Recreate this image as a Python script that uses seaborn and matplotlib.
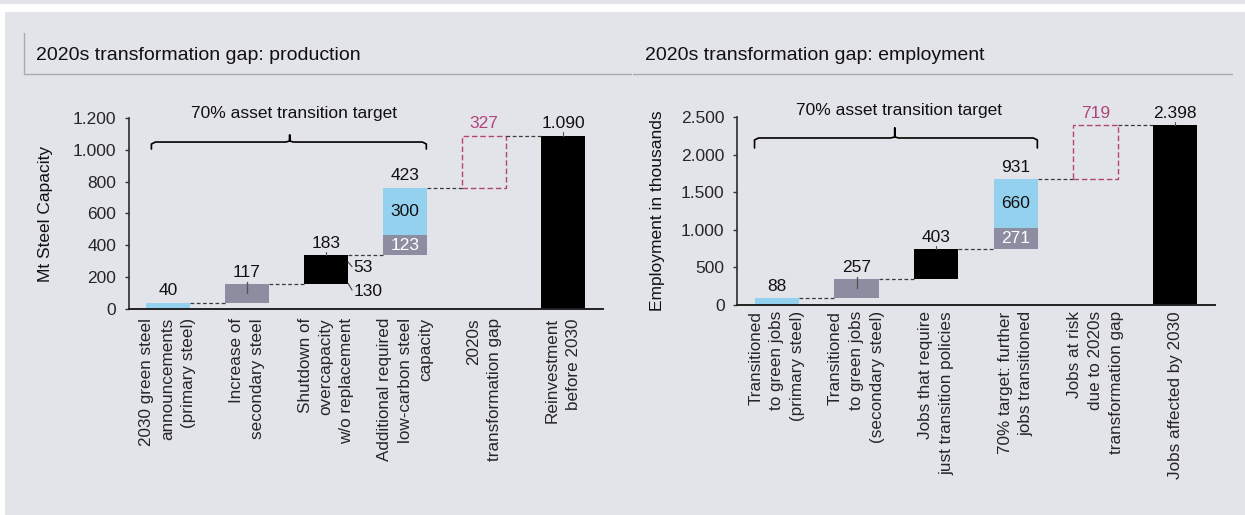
import numpy as np
import pandas as pd
import matplotlib
matplotlib.use("Agg")
import matplotlib.pyplot as plt
import seaborn as sns
from matplotlib.lines import Line2D
from matplotlib.patches import Rectangle
from matplotlib.ticker import FuncFormatter

# ---- data ----
prod_cats = ["2030 green steel\nannouncements\n(primary steel)",
             "Increase of\nsecondary steel",
             "Shutdown of\novercapacity\nw/o replacement",
             "Additional required\nlow-carbon steel\ncapacity",
             "2020s\ntransformation gap",
             "Reinvestment\nbefore 2030"]
prod_steps = [40, 117, 183, 423, 327]
prod_total = 1090
prod_split = [123, 300]          # grey / blue part of the 4th step
prod_shutdown_parts = [53, 130]

emp_cats = ["Transitioned\nto green jobs\n(primary steel)",
            "Transitioned\nto green jobs\n(secondary steel)",
            "Jobs that require\njust transition policies",
            "70% target: further\njobs transitioned",
            "Jobs at risk\ndue to 2020s\ntransformation gap",
            "Jobs affected by 2030"]
emp_steps = [88, 257, 403, 931, 719]
emp_total = 2398
emp_split = [271, 660]

BG = "#e3e4e9"
BLUE = "#94d1ef"
GREY = "#8d8da2"
MAGENTA = "#b0457a"
DASH = "#3a3a3a"

sns.set_theme(style="white", rc={"axes.facecolor": BG, "figure.facecolor": BG})
plt.rcParams["font.family"] = ["Liberation Sans", "DejaVu Sans"]


def fmt(v):
    return f"{v:,.0f}".replace(",", ".")


def waterfall(ax, cats, steps, total, split, ylim, ystep, brace, xpad):
    w = 0.56
    n = len(cats)
    tops = np.cumsum(steps)
    starts = tops - np.array(steps)
    bottoms = list(starts) + [0]
    heights = list(steps[:3]) + [split[0], steps[4], total]
    colors = [BLUE, GREY, "black", GREY, "none", "black"]

    df = pd.DataFrame({"cat": cats, "h": heights})
    sns.barplot(data=df, x="cat", y="h", order=cats, width=w, color=BLUE,
                saturation=1, errorbar=None, linewidth=0, ax=ax)
    for p, b, c in zip(ax.patches, bottoms, colors):
        p.set_y(b)
        p.set_facecolor(c)
    gap_bar = ax.patches[4]
    gap_bar.set_edgecolor(MAGENTA)
    gap_bar.set_linewidth(1)
    gap_bar.set_linestyle((0, (4, 2)))

    # blue upper part of the stacked step
    before = len(ax.patches)
    df2 = pd.DataFrame({"cat": [cats[3]], "h": [split[1]]})
    sns.barplot(data=df2, x="cat", y="h", order=cats, width=w, color=BLUE,
                saturation=1, errorbar=None, linewidth=0, ax=ax)
    for p in ax.patches[before:]:
        p.set_y(starts[3] + split[0])

    # connectors
    levels = list(tops)
    for i in range(n - 1):
        ax.plot([i + w / 2, i + 1 - w / 2], [levels[i], levels[i]],
                color=DASH, lw=0.9, ls=(0, (3, 2)), zorder=1)

    # value labels
    lab_y = list(tops[:5]) + [total]
    lab_v = list(steps) + [total]
    for i in range(n):
        ax.annotate(fmt(lab_v[i]), (i, lab_y[i]), xytext=(0, 3),
                    textcoords="offset points", ha="center", va="bottom",
                    fontsize=12.5, color=MAGENTA if i == 4 else "#111111")
    ax.text(3, starts[3] + split[0] / 2, fmt(split[0]), ha="center",
            va="center", fontsize=12.5, color="white")
    ax.text(3, starts[3] + split[0] + split[1] / 2, fmt(split[1]),
            ha="center", va="center", fontsize=12.5, color="#111111")

    # small leader ticks
    u = ylim / 190.0
    ax.plot([1, 1], [tops[1] + 2 * u, tops[1] - 9 * u], color="#555555", lw=1)
    for i, t in [(2, tops[2]), (5, total)]:
        ax.plot([i, i], [t, t + 3 * u], color="#555555", lw=0.8)

    # brace
    x0, x1, xc, yb, ye, yt, ty = brace
    d = 0.05
    ax.plot([x0, x0, x0 + d, xc - d, xc, xc, xc, xc + d, x1 - d, x1, x1],
            [ye, yb - 2 * u, yb, yb, yb + 1 * u, yt, yb + 1 * u, yb, yb, yb - 2 * u, ye],
            color="black", lw=1.2, clip_on=False)
    ax.text(xc + 0.05, ty, "70% asset transition target", ha="center",
            va="center", fontsize=12.5, color="#111111", clip_on=False)

    ax.set_xlim(-0.5, n - 0.5)
    ax.set_ylim(0, ylim)
    ax.set_yticks(np.arange(0, ylim + 1, ystep))
    ax.yaxis.set_major_formatter(FuncFormatter(lambda v, _: fmt(v)))
    ax.set_xticks(range(n))
    ax.set_xticklabels(cats, rotation=90, ha="center", va="top",
                       multialignment="right", fontsize=12.3, linespacing=1.5)
    ax.set_xlabel("")
    ax.tick_params(axis="x", length=0, pad=xpad)
    ax.tick_params(axis="y", length=3, width=1, direction="out", labelsize=12.5,
                   pad=6, color="#333333", left=True)
    for s in ["top", "right"]:
        ax.spines[s].set_visible(False)
    ax.spines["left"].set_color("#333333")
    ax.spines["bottom"].set_color("#222222")
    ax.spines["bottom"].set_linewidth(1.4)
    ax.set_facecolor("none")
    return starts


fig = plt.figure(figsize=(12.45, 5.15), dpi=100)
fig.patches.append(Rectangle((0, 1 - 12 / 515), 1, 8 / 515, transform=fig.transFigure,
                             facecolor="white", edgecolor="none", zorder=-1))
fig.patches.append(Rectangle((0, 0), 5 / 1245, 1 - 12 / 515, transform=fig.transFigure,
                             facecolor="white", edgecolor="none", zorder=-1))

ax1 = fig.add_axes([128.5 / 1245, 1 - 309 / 515, 474 / 1245, 191 / 515])
ax2 = fig.add_axes([737 / 1245, 1 - 305 / 515, 478 / 1245, 188 / 515])

starts1 = waterfall(ax1, prod_cats, prod_steps, prod_total, prod_split, 1200, 200,
                    (-0.21, 3.27, 1.54, 1049, 1005, 1093, 1231), 6.5)
waterfall(ax2, emp_cats, emp_steps, emp_total, emp_split, 2500, 500,
          (-0.28, 3.27, 1.48, 2221, 2088, 2354, 2580), 4.5)

# shutdown split labels
edge = 2 + 0.28
top_sd = starts1[2] + prod_steps[2]
ax1.plot([edge, edge + 0.05], [top_sd - 45, top_sd - 75], color="#444444", lw=0.8)
ax1.text(edge + 0.07, top_sd - 82, str(prod_shutdown_parts[0]), ha="left", va="center",
         fontsize=12.5, color="#111111")
ax1.plot([edge, edge + 0.05], [starts1[2] + 4, starts1[2] - 38], color="#444444", lw=0.8)
ax1.text(edge + 0.07, starts1[2] - 45, str(prod_shutdown_parts[1]), ha="left",
         va="center", fontsize=12.5, color="#111111")

ax1.set_ylabel("Mt Steel Capacity", fontsize=12.5, color="#111111")
ax1.yaxis.set_label_coords(-0.159, 0.5)
ax2.set_ylabel("Employment in thousands", fontsize=12.5, color="#111111")
ax2.yaxis.set_label_coords(-0.151, 0.5)

# panel headers
fig.text(36 / 1245, 1 - 55 / 515, "2020s transformation gap: production",
         fontsize=14, va="center", ha="left", color="#111111")
fig.text(645 / 1245, 1 - 55 / 515, "2020s transformation gap: employment",
         fontsize=14, va="center", ha="left", color="#111111")
hdr = "#a9aab0"
fig.add_artist(Line2D([24 / 1245, 24 / 1245], [1 - 33 / 515, 1 - 74 / 515], color=hdr, lw=1))
fig.add_artist(Line2D([24 / 1245, 631 / 1245], [1 - 74 / 515, 1 - 74 / 515], color=hdr, lw=1))
fig.add_artist(Line2D([633 / 1245, 1232 / 1245], [1 - 74 / 515, 1 - 74 / 515], color=hdr, lw=1))

fig.savefig("out.png", dpi=100, facecolor=BG)
